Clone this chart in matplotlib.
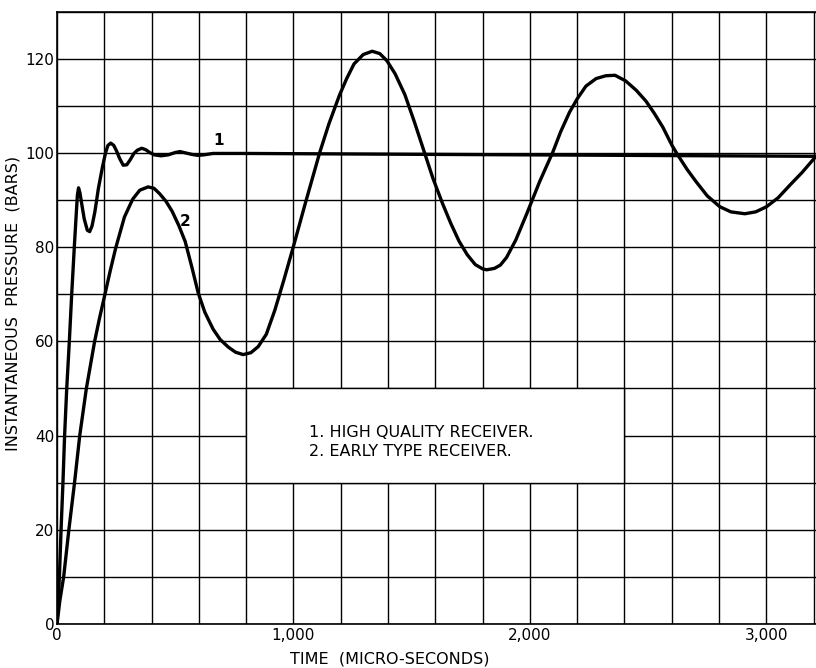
import matplotlib.pyplot as plt
from matplotlib.patches import Rectangle
from matplotlib.ticker import MultipleLocator, FuncFormatter

# Curva 1: receptor de alta calidad
t1 = [0, 10, 17, 25, 32, 41, 52, 62, 73, 80, 86, 91, 97, 105, 115, 128, 138, 148,
      160, 175, 192, 205, 215, 227, 240, 252, 265, 280, 295, 310, 325, 340, 358,
      375, 392, 412, 440, 470, 500, 520, 545, 570, 595, 620, 660, 720, 800, 1200,
      1600, 2000, 2400, 2800, 3210]
p1 = [0, 10, 20, 30, 40, 50, 60, 70, 80, 86, 91, 92.6, 91.5, 89, 86, 83.6, 83.3, 84.5,
      87.5, 92.5, 97, 100, 101.6, 102.1, 101.6, 100.4, 98.8, 97.4, 97.5, 98.6, 99.9, 100.6, 101,
      100.7, 100.1, 99.6, 99.4, 99.6, 100.1, 100.3, 100, 99.7, 99.5, 99.6, 99.9, 99.9, 99.9, 99.8,
      99.7, 99.6, 99.5, 99.4, 99.3]

# Curva 2: receptor de tipo antiguo
t2 = [0, 12, 28, 50, 74, 96, 124, 159, 180, 204, 225, 248, 285, 320, 350, 385, 410, 433,
      460, 487, 515, 542, 570, 597, 625, 660, 690, 724, 755, 787, 820, 851, 885, 921,
      958, 1000, 1050, 1111, 1150, 1194, 1225, 1256, 1295, 1333, 1365, 1395, 1430, 1471,
      1510, 1554, 1590, 1631, 1665, 1700, 1735, 1769, 1800, 1817, 1850, 1875, 1901, 1940,
      1985, 2041, 2097, 2130, 2167, 2200, 2237, 2280, 2321, 2360, 2405, 2450, 2491, 2525,
      2562, 2600, 2625, 2665, 2703, 2750, 2803, 2850, 2909, 2955, 3001, 3050, 3100, 3150,
      3210]
p2 = [0, 5, 10, 20, 30, 40, 50, 60, 65, 70.3, 75, 79.8, 86.4, 90.2, 92.1, 92.8, 92.5, 91.4,
      89.8, 87.6, 84.6, 81.2, 75.8, 70.3, 66.2, 62.6, 60.4, 58.8, 57.7, 57.2, 57.6, 58.9, 61.5, 66.6,
      72.8, 80.2, 89.3, 100.1, 106.2, 112.2, 115.8, 118.9, 120.9, 121.6, 121.1, 119.6, 116.8, 112.4,
      106.8, 100.1, 94.6, 89.2, 85.1, 81.3, 78.4, 76.3, 75.4, 75.2, 75.5, 76.2, 77.8, 81.5,
      86.9, 93.9, 100.2, 104.5, 108.6, 111.5, 114.2, 115.8, 116.4, 116.5, 115.3, 113.3, 111, 108.5,
      105.5, 101.7, 99.6, 96.5, 93.9, 90.9, 88.6, 87.5, 87.1, 87.5, 88.6, 90.5, 93.2, 95.8,
      99.3]

legend_lines = ["1. HIGH QUALITY RECEIVER.", "2. EARLY TYPE RECEIVER."]

fig = plt.figure(figsize=(8.16, 6.68), dpi=100)
ax = fig.add_axes([0.0699, 0.0659, 0.9301, 0.9166])

ax.set_xlim(0, 3210)
ax.set_ylim(0, 130)

# Cuadricula: cada 200 us y cada 10 bares
ax.xaxis.set_major_locator(MultipleLocator(1000))
ax.xaxis.set_minor_locator(MultipleLocator(200))
ax.yaxis.set_major_locator(MultipleLocator(20))
ax.yaxis.set_minor_locator(MultipleLocator(10))
ax.grid(which="both", color="black", linewidth=1.0)
ax.tick_params(which="both", length=0, labelsize=11)
ax.tick_params(axis="y", pad=2)
ax.tick_params(axis="x", pad=3)
ax.xaxis.set_major_formatter(FuncFormatter(lambda v, _: f"{int(v):,}"))

for side in ["left", "bottom", "top"]:
    ax.spines[side].set_linewidth(1.2)
ax.spines["right"].set_visible(False)

# Recuadro blanco de la leyenda
ax.add_patch(Rectangle((800, 30), 1600, 20, facecolor="white", edgecolor="black",
                       linewidth=1.0, zorder=1.6))
ax.text(1066, 40.6, legend_lines[0], fontsize=11.5, va="center", zorder=3)
ax.text(1066, 36.6, legend_lines[1], fontsize=11.5, va="center", zorder=3)

ax.plot(t1, p1, color="black", linewidth=2.4, solid_capstyle="round",
        solid_joinstyle="round", zorder=2)
ax.plot(t2, p2, color="black", linewidth=2.4, solid_capstyle="round",
        solid_joinstyle="round", zorder=2)

ax.text(660, 101.8, "1", fontsize=11, fontweight="bold", zorder=3)
ax.text(520, 84.5, "2", fontsize=11, fontweight="bold", zorder=3)

fig.text(0.478, 0.006, "TIME  (MICRO-SECONDS)", fontsize=11.5, ha="center")
fig.text(0.016, 0.546, "INSTANTANEOUS  PRESSURE  (BARS)", fontsize=11.5, rotation=90,
         ha="center", va="center")

plt.savefig("out.png", dpi=100)
